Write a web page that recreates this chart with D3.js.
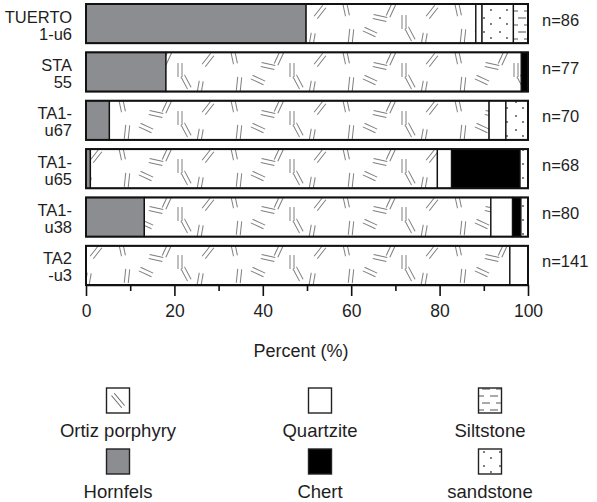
<!DOCTYPE html>
<html>
<head>
<meta charset="utf-8">
<script src="https://cdn.jsdelivr.net/npm/d3@7"></script>
<style>
  html, body { margin: 0; padding: 0; background: #fff; }
  svg { display: block; }
  text { font-family: "Liberation Sans", Arial, Helvetica, sans-serif; fill: #1e1e1e; }
</style>
</head>
<body>
<svg id="chart" width="597" height="502"></svg>
<script>
// ---------------- data ----------------
const labelTop    = ["TUERTO", "STA", "TA1-", "TA1-", "TA1-", "TA2"];
const labelBottom = ["1-u6", "55", "u67", "u65", "u38", "-u3"];
const sampleSizes = [86, 77, 70, 68, 80, 141];

// percent of each lithology per sample (stacked left to right)
const hornfels  = [49.8, 18.1, 5.3, 1.0, 13.2, 0];
const ortiz     = [38.4, 80.4, 85.9, 78.5, 78.4, 95.9];
const quartzite = [1.4, 0, 3.8, 3.2, 4.9, 4.1];
const chert     = [0, 1.5, 0, 15.5, 1.9, 0];
const sandstone = [7.1, 0, 5.0, 1.8, 1.6, 0];
const siltstone = [3.3, 0, 0, 0, 0, 0];

const seriesKeys   = ["Hornfels", "Ortiz porphyry", "Quartzite", "Chert", "sandstone", "Siltstone"];
const seriesValues = [hornfels, ortiz, quartzite, chert, sandstone, siltstone];

const majorTicks = [0, 20, 40, 60, 80, 100];
const minorTicks = [10, 30, 50, 70, 90];
const axisTitle  = "Percent (%)";

const legendRow1 = ["Ortiz porphyry", "Quartzite", "Siltstone"];
const legendRow2 = ["Hornfels", "Chert", "sandstone"];

// ---------------- build table ----------------
const rows = labelTop.map((t, i) => {
  const r = { id: i };
  seriesKeys.forEach((k, j) => r[k] = seriesValues[j][i]);
  return r;
});
const stacked = d3.stack().keys(seriesKeys)(rows);

// ---------------- styles ----------------
const fills = {
  "Hornfels": "#8b8d90",
  "Ortiz porphyry": "url(#pOrtiz)",
  "Quartzite": "#ffffff",
  "Chert": "#000000",
  "sandstone": "url(#pSand)",
  "Siltstone": "url(#pSilt)"
};

const svg = d3.select("#chart");
const defs = svg.append("defs");

// Ortiz porphyry pattern: pairs of short parallel strokes at various angles
const glyphs = [[10, 9, -12], [34, 32, -65], [55, 10, 25], [74, 34, -28], [96, 12, 38],
                [15, 36, 6], [44, 18, -78], [88, 40, 10], [68, 22, 0]];
const pOrtiz = defs.append("pattern").attr("id", "pOrtiz")
  .attr("patternUnits", "userSpaceOnUse").attr("width", 112).attr("height", 48);
pOrtiz.append("rect").attr("width", 112).attr("height", 48).attr("fill", "#fff");
glyphs.forEach(g => {
  const gg = pOrtiz.append("g").attr("transform", `translate(${g[0]},${g[1]}) rotate(${g[2]})`)
    .attr("stroke", "#7e7e7e").attr("stroke-width", 1);
  gg.append("line").attr("x1", -2).attr("x2", -2).attr("y1", -7).attr("y2", 7);
  gg.append("line").attr("x1", 2).attr("x2", 2).attr("y1", -7).attr("y2", 7);
});

// sandstone: sparse dots
const pSand = defs.append("pattern").attr("id", "pSand")
  .attr("patternUnits", "userSpaceOnUse").attr("width", 16).attr("height", 14);
pSand.append("rect").attr("width", 16).attr("height", 14).attr("fill", "#fff");
pSand.append("circle").attr("cx", 4).attr("cy", 4).attr("r", 0.9).attr("fill", "#444");
pSand.append("circle").attr("cx", 11).attr("cy", 10).attr("r", 0.9).attr("fill", "#444");

// siltstone: short horizontal dashes
const pSilt = defs.append("pattern").attr("id", "pSilt")
  .attr("patternUnits", "userSpaceOnUse").attr("width", 14).attr("height", 14);
pSilt.append("rect").attr("width", 14).attr("height", 14).attr("fill", "#fff");
pSilt.append("line").attr("x1", 0).attr("x2", 8).attr("y1", 4).attr("y2", 4).attr("stroke", "#555").attr("stroke-width", 1);
pSilt.append("line").attr("x1", 6).attr("x2", 14).attr("y1", 11).attr("y2", 11).attr("stroke", "#555").attr("stroke-width", 1);

// ---------------- scales ----------------
const x = d3.scaleLinear().domain([0, 100]).range([86, 528]);
const y = d3.scaleBand().domain(rows.map(r => r.id)).range([4, 285]).paddingInner(0.19).paddingOuter(0);

// ---------------- bars ----------------
const layer = svg.append("g");
stacked.forEach(s => {
  layer.append("g").selectAll("rect")
    .data(s.filter(d => d[1] - d[0] > 0))
    .join("rect")
    .attr("x", d => x(d[0]))
    .attr("width", d => x(d[1]) - x(d[0]))
    .attr("y", d => y(d.data.id))
    .attr("height", y.bandwidth())
    .attr("fill", fills[s.key])
    .attr("stroke", "#111")
    .attr("stroke-width", 1.3);
});
// outer frame of each bar
svg.append("g").selectAll("rect").data(rows).join("rect")
  .attr("x", x(0)).attr("width", x(100) - x(0))
  .attr("y", d => y(d.id)).attr("height", y.bandwidth())
  .attr("fill", "none").attr("stroke", "#111").attr("stroke-width", 2);

// row labels
const lab = svg.append("g").attr("font-size", 16.5).attr("text-anchor", "end");
rows.forEach(r => {
  const c = y(r.id) + y.bandwidth() / 2;
  lab.append("text").attr("x", 72).attr("y", c - 1).text(labelTop[r.id]);
  lab.append("text").attr("x", 72).attr("y", c + 16).text(labelBottom[r.id]);
});

// n labels
svg.append("g").attr("font-size", 16.5).selectAll("text").data(rows).join("text")
  .attr("x", 542).attr("y", d => y(d.id) + y.bandwidth() / 2 + 2)
  .text(d => "n=" + sampleSizes[d.id]);

// ---------------- axis ----------------
const axisY = 285;
const ax = svg.append("g").attr("transform", `translate(0,${axisY})`)
  .call(d3.axisBottom(x).tickValues(majorTicks).tickSize(11).tickSizeOuter(0).tickPadding(9));
ax.select(".domain").attr("stroke", "#111").attr("stroke-width", 1.6);
ax.selectAll(".tick line").attr("stroke", "#111").attr("stroke-width", 1.6);
ax.selectAll(".tick text").attr("font-size", 17.5).attr("font-family", null).attr("fill", "#1e1e1e");
const axMinor = svg.append("g").attr("transform", `translate(0,${axisY})`)
  .call(d3.axisBottom(x).tickValues(minorTicks).tickSize(6).tickFormat(""));
axMinor.select(".domain").remove();
axMinor.selectAll(".tick line").attr("stroke", "#111").attr("stroke-width", 1.6);

svg.append("text").attr("x", (x(0) + x(100)) / 2 - 6).attr("y", 357)
  .attr("text-anchor", "middle").attr("font-size", 18).text(axisTitle);

// ---------------- legend ----------------
const legCols = [118, 320, 490];
const legBoxW = 23, legBoxH = 25;
function legendItem(name, col, boxTop, textY) {
  const cx = legCols[col];
  const g = svg.append("g");
  g.append("rect").attr("x", cx - legBoxW / 2).attr("y", boxTop)
    .attr("width", legBoxW).attr("height", legBoxH)
    .attr("fill", name === "Ortiz porphyry" ? "#fff" : fills[name])
    .attr("stroke", "#222").attr("stroke-width", 1.4);
  if (name === "Ortiz porphyry") {
    const gg = g.append("g")
      .attr("transform", `translate(${cx},${boxTop + legBoxH / 2}) rotate(-40)`)
      .attr("stroke", "#666").attr("stroke-width", 1);
    gg.append("line").attr("x1", -1.8).attr("x2", -1.8).attr("y1", -8).attr("y2", 8);
    gg.append("line").attr("x1", 1.8).attr("x2", 1.8).attr("y1", -8).attr("y2", 8);
  }
  g.append("text").attr("x", cx).attr("y", textY).attr("text-anchor", "middle")
    .attr("font-size", 18.5).text(name);
}
legendRow1.forEach((n, i) => legendItem(n, i, 388, 437));
legendRow2.forEach((n, i) => legendItem(n, i, 449, 498));
</script>
</body>
</html>
